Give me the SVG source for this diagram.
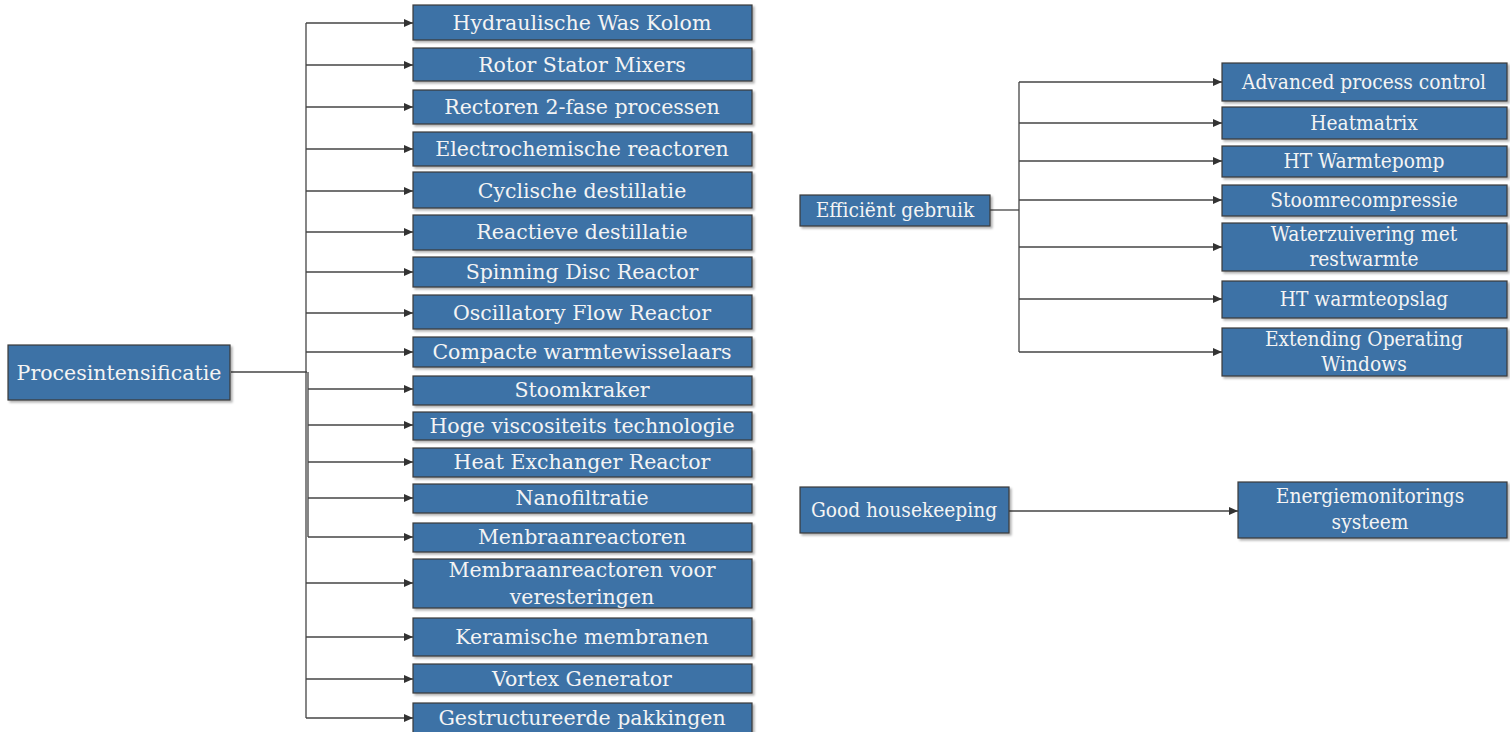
<svg xmlns="http://www.w3.org/2000/svg" width="1510" height="732" viewBox="0 0 1510 732">
<style>
.b{fill:#3E72A6;stroke:#3a3a3a;stroke-width:1.2;filter:url(#sh)}
.t{font-family:"DejaVu Serif","Liberation Serif",serif;font-size:20.5px;fill:#F4F4F4;text-anchor:middle}
.c{fill:none;stroke:#444;stroke-width:1.3}
.a{fill:none;stroke:#444;stroke-width:1.3;marker-end:url(#ar)}
</style>
<defs>
<filter id="sh" x="-5%" y="-20%" width="110%" height="150%"><feDropShadow dx="2" dy="2" stdDeviation="1.2" flood-color="#000" flood-opacity="0.3"/></filter>
<marker id="ar" markerWidth="10" markerHeight="10" refX="9" refY="5" orient="auto" markerUnits="userSpaceOnUse"><path d="M0,1 L9,5 L0,9 Z" fill="#333"/></marker>
</defs>
<rect width="1510" height="732" fill="#fff"/>
<g id="connectors">
<path class="c" d="M231,372 H307"/>
<path class="c" d="M306,23 V718"/>
<path class="c" d="M308,372 V537"/>
<path class="a" d="M306,23 H413"/>
<path class="a" d="M306,65 H413"/>
<path class="a" d="M306,107 H413"/>
<path class="a" d="M306,149 H413"/>
<path class="a" d="M306,191 H413"/>
<path class="a" d="M306,232 H413"/>
<path class="a" d="M306,272 H413"/>
<path class="a" d="M306,313 H413"/>
<path class="a" d="M306,352 H413"/>
<path class="a" d="M308,389 H413"/>
<path class="a" d="M308,425 H413"/>
<path class="a" d="M308,462 H413"/>
<path class="a" d="M308,498 H413"/>
<path class="a" d="M308,537 H413"/>
<path class="a" d="M306,583 H413"/>
<path class="a" d="M306,637 H413"/>
<path class="a" d="M306,679 H413"/>
<path class="a" d="M306,718 H413"/>
<path class="c" d="M990,210 H1019"/>
<path class="c" d="M1019,82 V352"/>
<path class="a" d="M1019,82 H1222"/>
<path class="a" d="M1019,123 H1222"/>
<path class="a" d="M1019,161 H1222"/>
<path class="a" d="M1019,200 H1222"/>
<path class="a" d="M1019,247 H1222"/>
<path class="a" d="M1019,299 H1222"/>
<path class="a" d="M1019,352 H1222"/>
<path class="a" d="M1009,511 H1238"/>
</g>
<g id="n-proces"><rect class="b" x="8" y="345" width="222" height="55"/><text class="t" x="119" y="380">Procesintensificatie</text></g>
<g id="n1"><rect class="b" x="413" y="5" width="339" height="35"/><text class="t" x="582" y="30">Hydraulische Was Kolom</text></g>
<g id="n2"><rect class="b" x="413" y="48" width="339" height="33"/><text class="t" x="582" y="72">Rotor Stator Mixers</text></g>
<g id="n3"><rect class="b" x="413" y="90" width="339" height="34"/><text class="t" x="582" y="114">Rectoren 2-fase processen</text></g>
<g id="n4"><rect class="b" x="413" y="132" width="339" height="34"/><text class="t" x="582" y="156">Electrochemische reactoren</text></g>
<g id="n5"><rect class="b" x="413" y="172" width="339" height="36"/><text class="t" x="582" y="198">Cyclische destillatie</text></g>
<g id="n6"><rect class="b" x="413" y="215" width="339" height="35"/><text class="t" x="582" y="239">Reactieve destillatie</text></g>
<g id="n7"><rect class="b" x="413" y="257" width="339" height="30"/><text class="t" x="582" y="279">Spinning Disc Reactor</text></g>
<g id="n8"><rect class="b" x="413" y="295" width="339" height="34"/><text class="t" x="582" y="320">Oscillatory Flow Reactor</text></g>
<g id="n9"><rect class="b" x="413" y="337" width="339" height="30"/><text class="t" x="582" y="359">Compacte warmtewisselaars</text></g>
<g id="n10"><rect class="b" x="413" y="376" width="339" height="29"/><text class="t" x="582" y="397">Stoomkraker</text></g>
<g id="n11"><rect class="b" x="413" y="412" width="339" height="28"/><text class="t" x="582" y="433">Hoge viscositeits technologie</text></g>
<g id="n12"><rect class="b" x="413" y="448" width="339" height="29"/><text class="t" x="582" y="469">Heat Exchanger Reactor</text></g>
<g id="n13"><rect class="b" x="413" y="484" width="339" height="29"/><text class="t" x="582" y="505">Nanofiltratie</text></g>
<g id="n14"><rect class="b" x="413" y="523" width="339" height="29"/><text class="t" x="582" y="544">Menbraanreactoren</text></g>
<g id="n15"><rect class="b" x="413" y="559" width="339" height="49"/><text class="t" x="582" y="577">Membraanreactoren voor</text><text class="t" x="582" y="604">veresteringen</text></g>
<g id="n16"><rect class="b" x="413" y="618" width="339" height="38"/><text class="t" x="582" y="644">Keramische membranen</text></g>
<g id="n17"><rect class="b" x="413" y="664" width="339" height="29"/><text class="t" x="582" y="686">Vortex Generator</text></g>
<g id="n18"><rect class="b" x="413" y="703" width="339" height="34"/><text class="t" x="582" y="725">Gestructureerde pakkingen</text></g>
<g id="n-eff"><rect class="b" x="800" y="195" width="190" height="31"/><text class="t" transform="translate(895 0) scale(0.91 1)" y="217">Efficiënt gebruik</text></g>
<g id="r1"><rect class="b" x="1222" y="63" width="285" height="38"/><text class="t" transform="translate(1364 0) scale(0.91 1)" y="89">Advanced process control</text></g>
<g id="r2"><rect class="b" x="1222" y="107" width="285" height="32"/><text class="t" transform="translate(1364 0) scale(0.91 1)" y="130">Heatmatrix</text></g>
<g id="r3"><rect class="b" x="1222" y="146" width="285" height="31"/><text class="t" transform="translate(1364 0) scale(0.91 1)" y="168">HT Warmtepomp</text></g>
<g id="r4"><rect class="b" x="1222" y="185" width="285" height="31"/><text class="t" transform="translate(1364 0) scale(0.91 1)" y="207">Stoomrecompressie</text></g>
<g id="r5"><rect class="b" x="1222" y="223" width="285" height="48"/><text class="t" transform="translate(1364 0) scale(0.91 1)" y="241">Waterzuivering met</text><text class="t" transform="translate(1364 0) scale(0.91 1)" y="266">restwarmte</text></g>
<g id="r6"><rect class="b" x="1222" y="281" width="285" height="37"/><text class="t" transform="translate(1364 0) scale(0.91 1)" y="306">HT warmteopslag</text></g>
<g id="r7"><rect class="b" x="1222" y="328" width="285" height="48"/><text class="t" transform="translate(1364 0) scale(0.91 1)" y="346">Extending Operating</text><text class="t" transform="translate(1364 0) scale(0.91 1)" y="371">Windows</text></g>
<g id="n-good"><rect class="b" x="800" y="487" width="209" height="46"/><text class="t" transform="translate(904 0) scale(0.91 1)" y="517">Good housekeeping</text></g>
<g id="r8"><rect class="b" x="1238" y="482" width="269" height="56"/><text class="t" transform="translate(1370 0) scale(0.91 1)" y="503">Energiemonitorings</text><text class="t" transform="translate(1370 0) scale(0.91 1)" y="529">systeem</text></g>
</svg>
